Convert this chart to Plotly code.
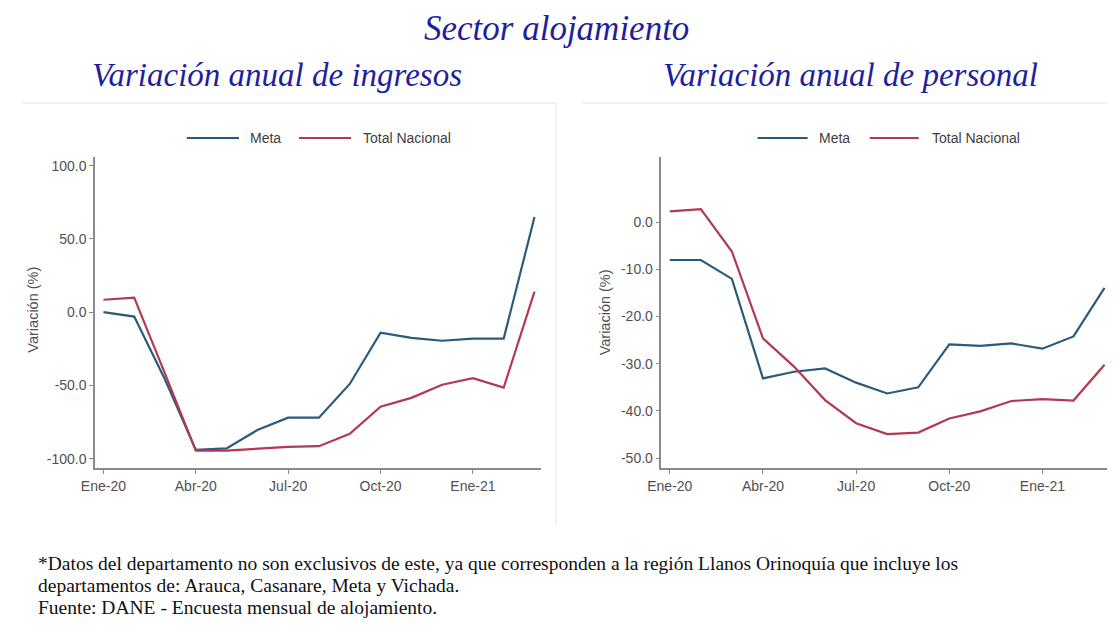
import plotly.graph_objects as go

# ---------------- data ----------------
months = ["Ene-20", "Feb-20", "Mar-20", "Abr-20", "May-20", "Jun-20", "Jul-20",
          "Ago-20", "Sep-20", "Oct-20", "Nov-20", "Dic-20", "Ene-21", "Feb-21", "Mar-21"]
tick_months = ["Ene-20", "Abr-20", "Jul-20", "Oct-20", "Ene-21"]

ingresos_meta = [0.0, -3.0, -46.0, -94.0, -93.0, -80.5, -72.0, -72.0, -49.0,
                 -14.0, -17.5, -19.5, -18.0, -18.0, 65.0]
ingresos_nacional = [8.5, 10.0, -42.0, -94.5, -94.5, -93.0, -92.0, -91.5, -83.0,
                     -64.5, -58.5, -49.5, -45.0, -51.5, 14.0]

personal_meta = [-8.0, -8.0, -12.0, -33.1, -31.7, -31.0, -34.0, -36.3, -35.0,
                 -25.9, -26.2, -25.7, -26.8, -24.2, -13.9]
personal_nacional = [2.3, 2.8, -6.2, -24.6, -30.6, -37.7, -42.6, -44.9, -44.6,
                     -41.6, -40.1, -37.9, -37.5, -37.8, -30.2]

ingresos_ticks = [100, 50, 0, -50, -100]
personal_ticks = [0, -10, -20, -30, -40, -50]

series_names = ["Meta", "Total Nacional"]

# ---------------- style ----------------
PAGE_W, PAGE_H = 1115, 641
OFF = 8  # default body margin of the html page
W, H = PAGE_W - 2 * OFF, PAGE_H - 2 * OFF
C_META = "#2b5a7d"
C_NAC = "#b23a50"
AXIS_C = "#8a8a8a"
TXT_C = "#505050"
TITLE_C = "#1f1f9e"
SANS = "Liberation Sans, Arial, sans-serif"
SERIF = "Liberation Serif, Times New Roman, serif"


def cx(x):
    # horizontal placement correction measured from previous renders
    return (x - 15.5) / 0.986


def px(x):
    return min(1.0, max(0.0, (cx(x) - OFF) / W))


def py(y):
    return (H - (y - OFF)) / H


def fmt(v):
    return f"{v:.1f}"


fig = go.Figure()

fig.add_trace(go.Scatter(x=months, y=ingresos_meta, mode="lines", name=series_names[0],
                         line=dict(color=C_META, width=2.2), xaxis="x", yaxis="y", showlegend=False))
fig.add_trace(go.Scatter(x=months, y=ingresos_nacional, mode="lines", name=series_names[1],
                         line=dict(color=C_NAC, width=2.2), xaxis="x", yaxis="y", showlegend=False))
fig.add_trace(go.Scatter(x=months, y=personal_meta, mode="lines", name=series_names[0],
                         line=dict(color=C_META, width=2.2), xaxis="x2", yaxis="y2", showlegend=False))
fig.add_trace(go.Scatter(x=months, y=personal_nacional, mode="lines", name=series_names[1],
                         line=dict(color=C_NAC, width=2.2), xaxis="x2", yaxis="y2", showlegend=False))

ydom = [py(468), py(156.7)]

common_x = dict(type="category", categoryorder="array", categoryarray=months,
                tickvals=tick_months, ticktext=tick_months,
                showline=True, linecolor=AXIS_C, linewidth=1.5, ticks="outside",
                ticklen=4, tickcolor=AXIS_C, showgrid=False, zeroline=False,
                tickfont=dict(family=SANS, size=14, color=TXT_C))
common_y = dict(showline=True, linecolor=AXIS_C, linewidth=1.5, ticks="outside",
                ticklen=4, tickcolor=AXIS_C, showgrid=False, zeroline=False,
                tickfont=dict(family=SANS, size=14, color=TXT_C),
                domain=ydom)

fig.update_layout(
    width=W, height=H,
    margin=dict(l=0, r=0, t=0, b=0),
    paper_bgcolor="white", plot_bgcolor="white",
    xaxis=dict(domain=[px(96.4), px(542)], anchor="y", range=[-0.27, 14.22], **common_x),
    yaxis=dict(anchor="x", range=[-106.4, 106.2], tickvals=ingresos_ticks,
               ticktext=[fmt(v) for v in ingresos_ticks], **common_y),
    xaxis2=dict(domain=[px(662), 1.0], anchor="y2", range=[-0.27, 14.08], **common_x),
    yaxis2=dict(anchor="x2", range=[-52.1, 13.9], tickvals=personal_ticks,
                ticktext=[fmt(v) for v in personal_ticks], **common_y),
)

annotations = []
# titles
annotations.append(dict(text="Sector alojamiento", x=px(557), y=py(29), xref="paper", yref="paper",
                        xanchor="center", yanchor="middle", showarrow=False,
                        font=dict(family=SERIF, size=35, color=TITLE_C, style="italic")))
for txt, tx in [("Variación anual de ingresos", 278), ("Variación anual de personal", 851)]:
    annotations.append(dict(text=txt, x=px(tx), y=py(75), xref="paper", yref="paper",
                            xanchor="center", yanchor="middle", showarrow=False,
                            font=dict(family=SERIF, size=33, color=TITLE_C, style="italic")))
# axis titles
for tx, ty in [(34, 310), (606, 312)]:
    annotations.append(dict(text="Variación (%)", x=px(tx), y=py(ty), xref="paper", yref="paper",
                            xanchor="center", yanchor="middle", textangle=-90, showarrow=False,
                            font=dict(family=SANS, size=14.5, color=TXT_C)))
# legends (manual)
shapes = []
legend_items = [
    (188, 240, 249, series_names[0], C_META),
    (300, 352, 362, series_names[1], C_NAC),
    (758, 808, 817, series_names[0], C_META),
    (870, 919, 930, series_names[1], C_NAC),
]
for x0, x1, tx, name, col in legend_items:
    shapes.append(dict(type="line", xref="paper", yref="paper", x0=px(x0), x1=px(x1),
                       y0=py(138), y1=py(138), line=dict(color=col, width=2)))
    annotations.append(dict(text=name, x=px(tx), y=py(138), xref="paper", yref="paper",
                            xanchor="left", yanchor="middle", showarrow=False,
                            font=dict(family=SANS, size=14, color="#404040")))
# faint panel borders
for x0, y0, x1, y1 in [(10, 103, 557, 103), (557, 103, 557, 525), (583, 103, 1115, 103)]:
    shapes.append(dict(type="line", xref="paper", yref="paper", x0=px(x0), x1=px(x1),
                       y0=py(y0), y1=py(y1), line=dict(color="#eeeeee", width=1.5)))
# footnote
foot = [
    "*Datos del departamento no son exclusivos de este, ya que corresponden a la región Llanos Orinoquía que incluye los",
    "departamentos de: Arauca, Casanare, Meta y Vichada.",
    "Fuente: DANE - Encuesta mensual de alojamiento.",
]
for i, line in enumerate(foot):
    annotations.append(dict(text=line, x=px(37), y=py(563 + 22 * i), xref="paper", yref="paper",
                            xanchor="left", yanchor="middle", showarrow=False,
                            font=dict(family=SERIF, size=19.5, color="#111111")))

fig.update_layout(annotations=annotations, shapes=shapes)
fig.write_html("out.html")
